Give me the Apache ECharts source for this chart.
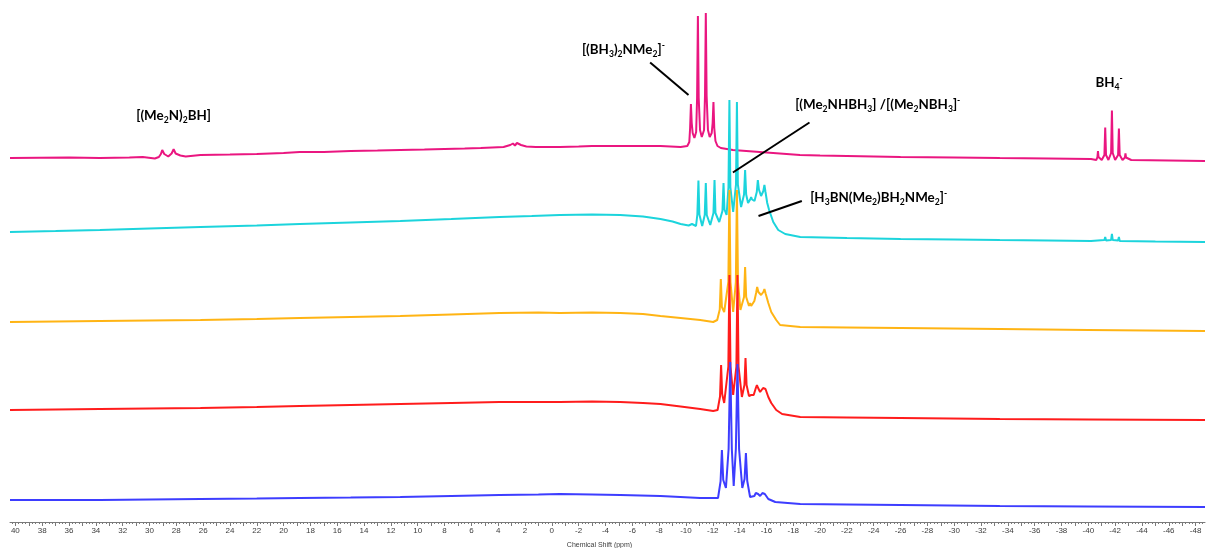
<!DOCTYPE html>
<html>
<head>
<meta charset="utf-8">
<title>11B NMR stack</title>
<script src="https://cdn.jsdelivr.net/npm/echarts@6/dist/echarts.min.js"></script>
<style>
  html, body { margin: 0; padding: 0; background: #ffffff; }
  #chart { width: 1206px; height: 548px; }
</style>
</head>
<body>
<div id="chart"></div>
<script>
// ---- Spectra: [chemical shift (ppm), intensity (a.u.) relative to the trace's own baseline] ----
const pinkTrace = [
  [40.4,0],[36,0.1],[33.7,0],[31.5,0.1],[30.5,0.2],[29.6,-0.1],
  [29.3,0.2],[29.15,0.8],[29.05,1.6],[28.9,0.8],[28.6,0.3],[28.35,0.9],[28.2,1.75],[28.05,0.9],[27.7,0.5],[27.3,0.3],
  [26.2,0.6],[24,0.7],[22,0.8],[20,1.0],[18.8,1.2],[17,1.2],[15,1.4],[13,1.5],[11.3,1.6],[9.5,1.7],[8,1.8],[6.5,1.9],[5.3,2.0],[3.6,2.2],
  [3.1,2.6],[2.9,2.9],[2.75,2.5],[2.6,3.0],[2.3,2.6],[1.9,2.3],[1.2,2.2],[-0.6,2.2],[-2,2.3],[-3,2.4],[-5.1,2.4],[-6.5,2.4],[-8.1,2.4],[-9.6,2.2],[-10.1,2.4],[-10.25,3.2],
  [-10.31,6.0],[-10.37,10.8],[-10.43,7.0],[-10.5,5.0],[-10.63,4.0],[-10.76,5.2],[-10.83,12.0],[-10.89,28.4],[-10.95,12.0],[-11.05,5.6],
  [-11.18,4.2],[-11.35,5.6],[-11.42,12.5],[-11.48,29.0],[-11.54,12.5],[-11.64,5.6],[-11.77,4.2],[-11.92,5.0],[-11.99,7.0],[-12.05,11.2],[-12.11,6.0],
  [-12.2,3.4],[-12.35,2.4],[-12.6,2.0],[-13.5,1.6],[-14.5,1.4],[-15.5,1.2],[-17,0.9],[-18.5,0.6],[-20,0.5],[-22,0.4],[-24,0.3],[-26,0.2],[-30,0.1],[-33.4,0],[-37,-0.1],[-40.2,-0.2],[-40.6,-0.4],
  [-40.68,0.2],[-40.72,1.4],[-40.76,0.2],[-41.0,-0.4],[-41.2,0.6],[-41.26,6.1],[-41.32,0.6],[-41.5,-0.4],[-41.7,1.0],[-41.76,9.5],[-41.82,1.0],
  [-42.0,-0.4],[-42.22,0.6],[-42.28,5.9],[-42.34,0.6],[-42.55,-0.4],[-42.73,0.1],[-42.77,0.9],[-42.81,0.1],[-43.2,-0.4],[-46,-0.5],[-48.7,-0.6]
];
const cyanTrace = [
  [40.4,0],[37,0.2],[33.7,0.4],[30,0.7],[26.2,1.0],[22,1.3],[18.8,1.6],[15,1.9],[11.3,2.2],[7.5,2.6],[3.9,3.0],[1.5,3.2],[-0.6,3.4],[-3,3.5],[-5.1,3.4],[-6.8,3.1],[-8.1,2.6],[-9.0,2.1],[-9.6,1.6],[-10.2,1.3],[-10.45,1.6],[-10.5,2.0],[-10.55,1.4],[-10.75,1.2],
  [-10.85,3.5],[-10.93,10.3],[-11.0,3.5],[-11.21,1.2],[-11.4,3.4],[-11.48,9.8],[-11.55,3.4],[-11.81,1.4],[-12.05,3.8],[-12.13,10.4],[-12.2,3.8],[-12.48,2.0],
  [-12.72,4.2],[-12.80,9.8],[-12.87,4.5],[-13.03,3.4],[-13.17,9.0],[-13.24,26.4],[-13.31,9.0],[-13.52,4.0],[-13.73,9.5],[-13.80,26.0],[-13.87,9.5],[-14.11,5.0],
  [-14.33,7.5],[-14.41,12.4],[-14.49,7.5],[-14.63,5.8],[-14.79,6.5],[-14.86,7.0],[-14.93,6.5],[-15.11,6.2],[-15.28,8.0],[-15.36,10.4],[-15.44,8.5],[-15.6,7.2],
  [-15.77,8.2],[-15.85,9.4],[-15.93,8.0],[-16.06,5.8],[-16.2,4.4],[-16.51,2.0],[-16.88,0.4],[-17.4,-0.4],[-18.52,-1.0],[-22,-1.2],[-26,-1.4],[-30,-1.5],[-33.4,-1.6],[-37,-1.7],[-40.2,-1.8],
  [-41.2,-1.6],[-41.26,-1.0],[-41.32,-1.7],[-41.7,-1.6],[-41.76,-0.4],[-41.82,-1.6],[-42.22,-1.7],[-42.28,-1.0],[-42.34,-1.8],[-45,-1.9],[-48.7,-2.0]
];
const orangeTrace = [
  [40.4,0],[37,0.1],[33.7,0.2],[30,0.3],[26.2,0.4],[22,0.6],[18.8,0.8],[15,1.0],[11.3,1.2],[7.5,1.5],[3.9,1.8],[1,1.9],[-0.6,1.8],[-3,1.9],[-5.1,1.8],[-6.8,1.6],[-8.1,1.2],[-9.6,0.8],[-11.06,0.4],[-12.03,0],
  [-12.33,0.4],[-12.52,2.5],[-12.60,8.6],[-12.68,3.0],[-12.85,2.0],[-13.16,8.0],[-13.24,26.4],[-13.32,8.0],[-13.52,2.0],[-13.72,8.0],[-13.80,26.4],[-13.88,8.0],[-14.06,2.4],
  [-14.33,5.0],[-14.41,11.0],[-14.49,5.0],[-14.7,3.2],[-14.78,3.8],[-14.86,3.2],[-15.1,4.2],[-15.23,5.8],[-15.31,7.0],[-15.4,6.0],[-15.6,5.4],[-15.77,6.0],[-15.85,6.6],[-15.95,5.6],
  [-16.14,3.8],[-16.36,2.0],[-16.73,0.4],[-17.02,-0.6],[-18.52,-1.0],[-22,-1.1],[-26,-1.2],[-33.4,-1.4],[-40,-1.6],[-48.7,-1.8]
];
const redTrace = [
  [40.4,-0.2],[37,-0.1],[33.7,0],[30,0.1],[26.2,0.2],[22,0.4],[18.8,0.6],[15,0.8],[11.3,1.0],[7.5,1.2],[3.9,1.4],[-0.6,1.4],[-3,1.5],[-5.1,1.4],[-6.8,1.2],[-8.1,1.0],[-9.6,0.5],[-11.06,0],[-12.03,-0.4],
  [-12.36,-0.2],[-12.54,2.5],[-12.62,8.8],[-12.7,3.0],[-12.85,1.2],[-13.16,8.5],[-13.24,26.8],[-13.32,8.5],[-13.52,2.8],[-13.76,8.5],[-13.84,26.8],[-13.92,8.5],[-14.17,2.4],
  [-14.36,4.8],[-14.44,10.2],[-14.52,4.8],[-14.7,2.6],[-14.86,2.8],[-15.05,2.8],[-15.21,4.2],[-15.29,4.8],[-15.38,4.2],[-15.53,3.4],[-15.75,4.2],[-15.83,4.6],[-15.93,4.0],
  [-16.14,2.4],[-16.36,1.2],[-16.73,-0.2],[-17.17,-1.0],[-18.52,-1.6],[-22,-1.7],[-26,-1.8],[-33.4,-2.0],[-40,-2.1],[-48.7,-2.2]
];
const blueTrace = [
  [40.4,-0.2],[33.7,-0.2],[30,-0.1],[26.2,0],[22,0.1],[18.8,0.2],[15,0.3],[11.3,0.4],[7.5,0.6],[3.9,0.8],[1,0.9],[-0.6,1.0],[-3,0.9],[-5.1,0.8],[-8.1,0.6],[-11.06,0.2],[-12.03,0.2],
  [-12.39,0.2],[-12.58,3.5],[-12.68,9.8],[-12.78,3.8],[-12.98,2.2],[-13.18,10],[-13.30,27.4],[-13.42,10],[-13.56,2.6],[-13.72,10],[-13.84,27.0],[-13.96,10],[-14.2,2.2],
  [-14.37,4.0],[-14.47,9.2],[-14.57,3.6],[-14.78,0.4],[-15.1,0.6],[-15.21,1.2],[-15.29,1.4],[-15.38,1.0],[-15.53,0.6],[-15.7,1.2],[-15.78,1.4],[-15.88,1.0],
  [-16.14,0],[-16.66,-0.6],[-18.52,-1.0],[-22,-1.1],[-26,-1.2],[-33.4,-1.4],[-40,-1.5],[-48.7,-1.6]
];

// Vertical stacking offset of each trace (a.u.), top trace first
const traceOffsets = [72.8, 58, 40, 22.6, 4.6];
const traceColors = ['#EA1680', '#1CD4DC', '#FFB414', '#FF1C1C', '#3D3DFF'];

// Axis tick values (ppm)
const tickLabels = [40,38,36,34,32,30,28,26,24,22,20,18,16,14,12,10,8,6,4,2,0,-2,-4,-6,-8,-10,-12,-14,-16,-18,-20,-22,-24,-26,-28,-30,-32,-34,-36,-38,-40,-42,-44,-46,-48];

// Species assignments (rich text: s = subscript, p = superscript)
const speciesLabels = [
  '{t|[(Me}{s|2}{t|N)}{s|2}{t|BH]}',
  '{t|[(BH}{s|3}{t|)}{s|2}{t|NMe}{s|2}{t|]}{p|-}',
  '{t|[(Me}{s|2}{t|NHBH}{s|3}{t|] /[(Me}{s|2}{t|NBH}{s|3}{t|]}{p|-}',
  '{t|[H}{s|3}{t|BN(Me}{s|2}{t|)BH}{s|2}{t|NMe}{s|2}{t|]}{p|-}',
  '{t|BH}{s|4}{p|-}'
];

// ---- layout of annotations, in axis coordinates [ppm, a.u.] ----
const labelAnchors = [[30.99, 81.3], [-2.24, 94.4], [-18.14, 83.4], [-19.26, 64.9], [-40.53, 87.9]];
const leaderLines = [
  [[-7.33, 91.9], [-10.19, 85.4]],
  [[-19.21, 79.9], [-13.50, 69.9]],
  [[-18.64, 64.2], [-15.41, 61.2]]
];

const traces = [pinkTrace, cyanTrace, orangeTrace, redTrace, blueTrace];
const X_MIN = -48.7, X_MAX = 40.4;

const unitTicks = [];
for (let v = 40; v >= -48; v -= 1) unitTicks.push(v);
const fineTicks = [];
for (let v = 40.25; v >= -48.5; v -= 0.25) fineTicks.push(Math.round(v * 100) / 100);

const chart = echarts.init(document.getElementById('chart'), null, { renderer: 'canvas' });

const axisFont = 'Liberation Sans, Arial, sans-serif';
const labelFont = 'Lato, Open Sans, sans-serif';

chart.setOption({
  animation: false,
  backgroundColor: '#ffffff',
  grid: { left: 10, right: 1, top: 0, bottom: 26, containLabel: false, outerBoundsMode: 'none' },
  xAxis: [
    {
      type: 'value', inverse: true, min: X_MIN, max: X_MAX, position: 'bottom',
      axisLine: { show: true, lineStyle: { color: '#7a7a7a', width: 1 } },
      axisTick: { show: true, customValues: unitTicks, length: 4, lineStyle: { color: '#7a7a7a' } },
      axisLabel: { show: true, customValues: tickLabels, fontSize: 8, color: '#3c3c3c', margin: 5, fontFamily: axisFont },
      splitLine: { show: false },
      name: 'Chemical Shift (ppm)', nameLocation: 'middle', nameGap: 20,
      nameTextStyle: { fontSize: 7, color: '#3c3c3c', fontFamily: axisFont, padding: [0, 16, 0, 0] }
    },
    {
      type: 'value', inverse: true, min: X_MIN, max: X_MAX, position: 'bottom',
      axisLine: { show: false },
      axisTick: { show: true, customValues: fineTicks, length: 2, lineStyle: { color: '#7a7a7a' } },
      axisLabel: { show: false },
      splitLine: { show: false }
    }
  ],
  yAxis: { type: 'value', min: 0, max: 104.4, show: false },
  series: traces.map((tr, i) => ({
    type: 'line',
    xAxisIndex: 0,
    data: tr.map(([x, v]) => [x, v + traceOffsets[i]]),
    showSymbol: false,
    symbol: 'none',
    smooth: false,
    lineStyle: { color: traceColors[i], width: 2 },
    z: 2 + i
  }))
});

// Annotation text and leader lines placed from axis coordinates
const richStyles = {
  t: { fontSize: 13.4, fontWeight: 'bold', color: '#595959', fontFamily: labelFont, lineHeight: 18, verticalAlign: 'middle' },
  s: { fontSize: 8.6, fontWeight: 'bold', color: '#595959', fontFamily: labelFont, lineHeight: 10, verticalAlign: 'bottom' },
  p: { fontSize: 8.6, fontWeight: 'bold', color: '#595959', fontFamily: labelFont, lineHeight: 8, verticalAlign: 'top' }
};
const toPx = (pt) => chart.convertToPixel({ gridIndex: 0 }, pt);
const graphics = [];
speciesLabels.forEach((txt, i) => {
  const p = toPx(labelAnchors[i]);
  graphics.push({
    type: 'text', x: p[0], y: p[1], z: 50,
    style: { text: txt, rich: richStyles, align: 'left', verticalAlign: 'middle' }
  });
});
leaderLines.forEach(([a, b]) => {
  const p1 = toPx(a), p2 = toPx(b);
  graphics.push({
    type: 'line', z: 50,
    shape: { x1: p1[0], y1: p1[1], x2: p2[0], y2: p2[1] },
    style: { stroke: '#000000', lineWidth: 2 }
  });
});
chart.setOption({ graphic: graphics });
</script>
</body>
</html>
